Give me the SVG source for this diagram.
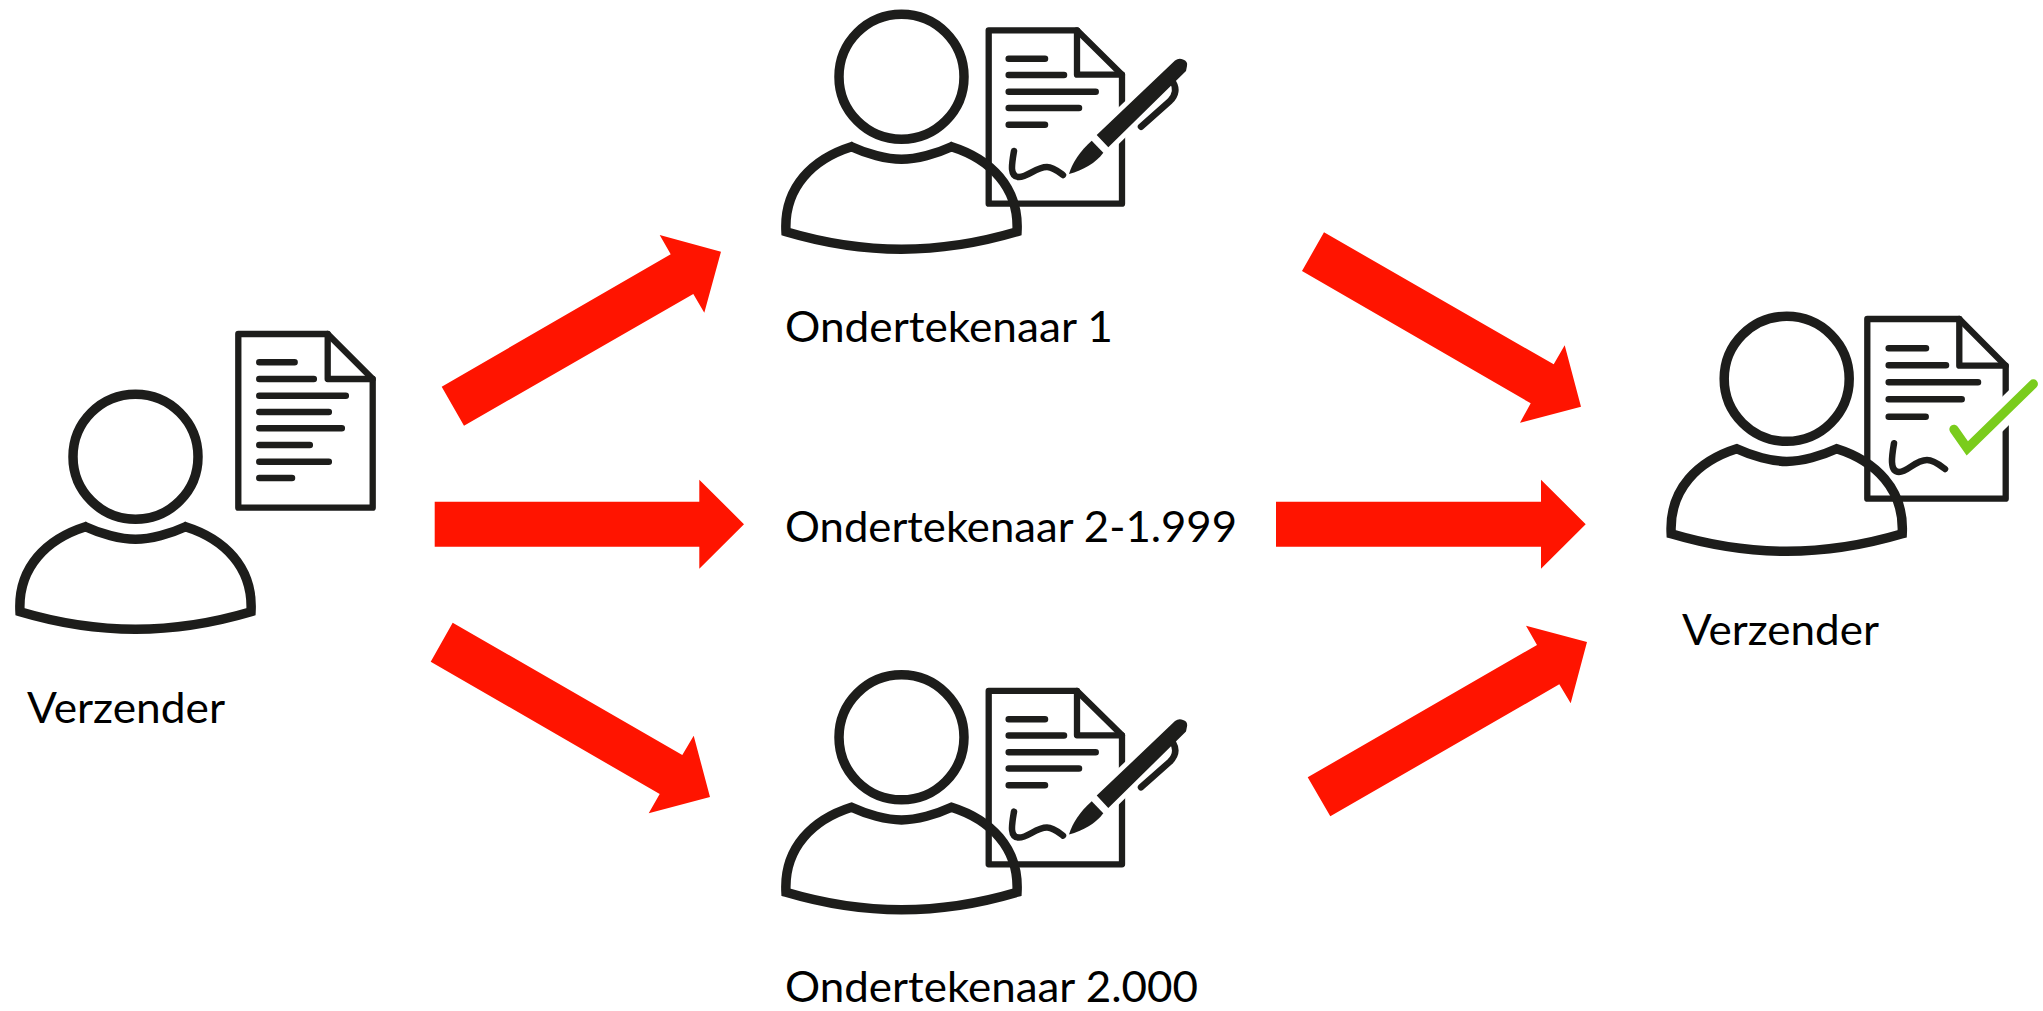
<svg xmlns="http://www.w3.org/2000/svg" width="2043" height="1011" viewBox="0 0 2043 1011">
<style>
.k{fill:none;stroke:#1d1d1b;stroke-linecap:round;stroke-linejoin:round}
.o{stroke-width:9.5;stroke-linejoin:miter;stroke-miterlimit:8;stroke-linecap:butt}
.d{stroke-width:6.3}
.l{stroke-width:6.5}
.a{fill:#ff1400;stroke:none}
.t{font-family:"Lato","Liberation Sans",sans-serif;font-size:43px;fill:#000}
</style>
<defs>
<g id="person">
<path class="k o" d="M-62.5 0A62.5 62.5 0 1 1 62.5 0A62.5 62.5 0 1 1-62.5 0Z"/>
<path class="k o" d="M-50 70C-35 77-15 82.6 0 82.6C15 82.6 35 77 50 70C88 82 118 110 115.5 155C75 167 40 172.5 0 172.5C-40 172.5-75 167-115.5 155C-118 110-88 82-50 70Z"/>
</g>
<g id="signdoc">
<path class="k d" d="M988.7 30.3H1077L1122 74.7V203.7H988.7Z"/>
<path class="k d" d="M1077 30.3V74.7H1122"/>
<path class="k l" d="M1008.7 58.7H1045M1008.7 75H1064M1008.7 91.7H1095.7M1008.7 108H1079M1008.7 124.7H1045"/>
<path class="k l" d="M1014 151C1012 163 1009 177 1019 177C1028 177 1036 167 1047 167C1053 167 1059 172 1063 175"/>
<path d="M1096.7 135L1176 60L1181.7 59.3L1186.7 65L1185 71.7L1108.3 147.3Z" fill="#fff" stroke="#fff" stroke-width="10"/>
<path d="M1096.7 135L1175 60.5Q1179 57.5 1183 59.5Q1188 61 1187 66L1186 71L1108.3 147.3Z" fill="#1d1d1b"/>
<path d="M1091.7 140.7C1080 151 1072 163 1069 174C1083 170 1096 163 1103.3 152.7Z" fill="#1d1d1b"/>
<path class="k l" d="M1173 82C1177 89 1176 95 1170 101L1141 126.7"/>
</g>
</defs>
<g id="connectors">
<path class="a" d="M441.7 386.7L464 425.7L693.3 294L704.3 312.7L721 251.7L659.7 235L670.7 254.3Z"/>
<path class="a" d="M434.7 501.7H699.3V479.7L744 524.2L699.3 568.7V546.7H434.7Z"/>
<path class="a" d="M452.7 622.7L430.7 661.7L659.7 794L648.7 813.3L710 797L693.7 735.7L682.3 755Z"/>
<path class="a" d="M1324 232.3L1302 271L1530.7 403.3L1520 422.7L1581 406.7L1564.7 345.3L1553.7 364.3Z"/>
<path class="a" d="M1276 501.7H1541V479.7L1585.7 524.2L1541 568.7V546.7H1276Z"/>
<path class="a" d="M1307.7 777.3L1330.3 816.3L1559.3 684.3L1570.7 703.3L1587 642L1526 625.7L1537 645Z"/>
</g>
<g id="sender">
<path class="k d" d="M238.3 334H327.7L372.7 379V507.7H238.3Z"/>
<path class="k d" d="M327.7 334V379H372.7"/>
<path class="k l" d="M259.3 362.3H294.6M259.3 379H313.8M259.3 395.7H345.8M259.3 412H328.8M259.3 428.3H341.8M259.3 445H309.8M259.3 461.7H328.8M259.3 478H292"/>
<use href="#person" x="135.5" y="456.7"/>
<text class="t" x="27" y="723" textLength="198" lengthAdjust="spacingAndGlyphs">Verzender</text>
</g>
<g id="signer-1">
<use href="#signdoc"/>
<use href="#person" x="901.5" y="76.7"/>
<text class="t" x="785" y="341.7" textLength="328" lengthAdjust="spacingAndGlyphs">Ondertekenaar 1</text>
</g>
<g id="signer-2">
<text class="t" x="785" y="542" textLength="452" lengthAdjust="spacingAndGlyphs">Ondertekenaar 2-1.999</text>
</g>
<g id="signer-3">
<use href="#signdoc" y="660.6"/>
<use href="#person" x="901.5" y="737.3"/>
<text class="t" x="785" y="1001.7" textLength="413" lengthAdjust="spacingAndGlyphs">Ondertekenaar 2.000</text>
</g>
<g id="receiver">
<path class="k d" d="M1867.3 319H1959.3L2005.7 365.7V498.7H1867.3Z"/>
<path class="k d" d="M1959.3 319V365.7H2005.7"/>
<path class="k l" d="M1888.7 348.3H1926M1888.7 365.3H1946M1888.7 382.3H1978M1888.7 399.3H1961.7M1888.7 416.7H1925.7"/>
<path class="k l" d="M1894 443.3C1892 455 1889 472 1899 472C1908 472 1915 460 1927 460C1934 460 1941 466 1945 469"/>
<path d="M1967.3 448.3L2033.3 384" fill="none" stroke="#fff" stroke-width="25"/>
<path d="M1954 429.3L1967.3 448.3L2033.3 384" fill="none" stroke="#7acc1c" stroke-width="9.3" stroke-linecap="round" stroke-linejoin="miter"/>
<use href="#person" x="1786.7" y="378.8"/>
<text class="t" x="1682" y="645" textLength="197" lengthAdjust="spacingAndGlyphs">Verzender</text>
</g>
</svg>
